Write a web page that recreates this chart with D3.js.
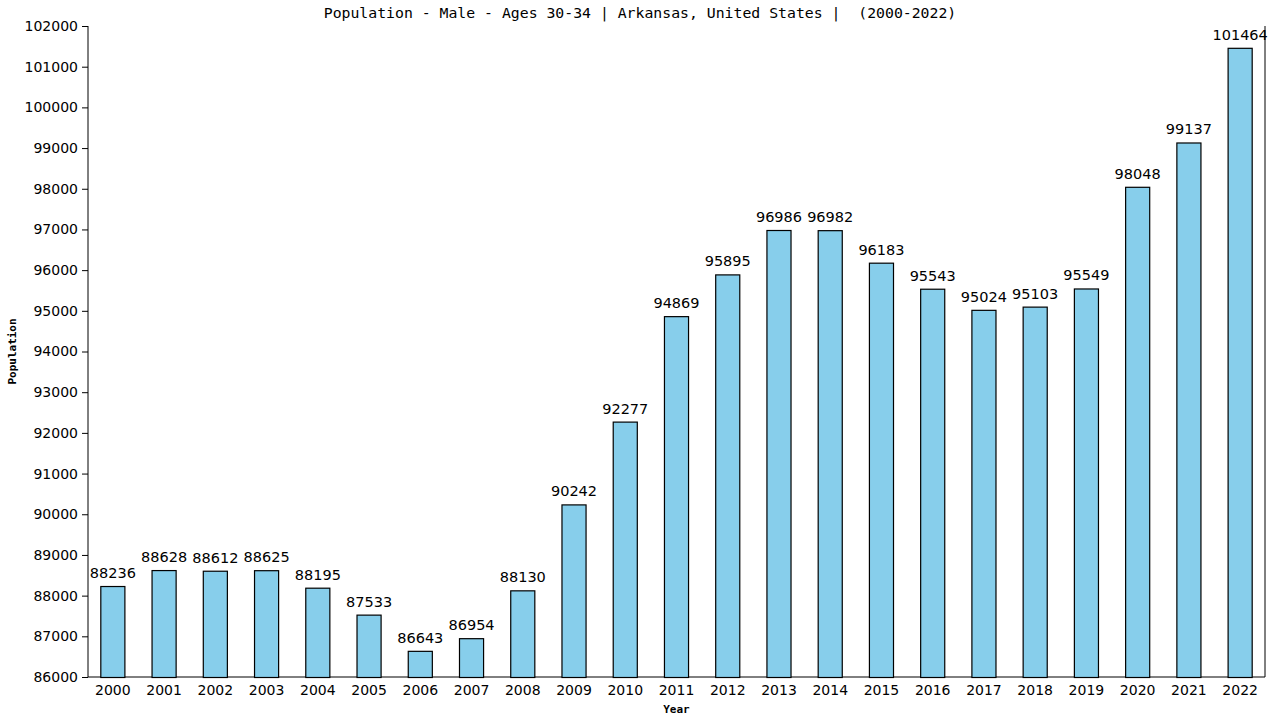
<!DOCTYPE html>
<html lang="en">
  <head>
    <meta charset="UTF-8" />
    <title>Population - Male - Ages 30-34 | Arkansas</title>
    <script src="https://d3js.org/d3.v7.min.js"></script>
    <style>
      body { margin: 0; background: #fff; }
      .tick text { font-family: "DejaVu Sans", sans-serif; font-size: 14px; fill: #000; }
    </style>
  </head>
  <body>
    <div class="chart"></div>
  </body>
  <script>
    var years = ["2000","2001","2002","2003","2004","2005","2006","2007","2008","2009","2010","2011",
                 "2012","2013","2014","2015","2016","2017","2018","2019","2020","2021","2022"];
    var population = [88236, 88628, 88612, 88625, 88195, 87533, 86643, 86954, 88130, 90242, 92277, 94869,
                      95895, 96986, 96982, 96183, 95543, 95024, 95103, 95549, 98048, 99137, 101464];
    var yTicks = [86000, 87000, 88000, 89000, 90000, 91000, 92000, 93000, 94000, 95000,
                  96000, 97000, 98000, 99000, 100000, 101000, 102000];

    var margin = { top: 26, right: 15, bottom: 43, left: 88 };
    var width = 1280 - margin.left - margin.right;
    var height = 720 - margin.top - margin.bottom;

    var svgContainer = d3.select(".chart").append("svg")
      .attr("width", 1280)
      .attr("height", 720);

    var svg = svgContainer.append("g")
      .attr("transform", "translate(" + margin.left + ", " + margin.top + ")");

    var xScale = d3.scaleBand().domain(years).range([0, width]).paddingInner(0.53).paddingOuter(0.25);
    var yScale = d3.scaleLinear().domain([86000, 102000]).range([height, 0]);

    var yAxis = d3.axisLeft(yScale).tickValues(yTicks).tickSize(6).tickPadding(4).tickFormat(d3.format("d"));
    svg.append("g").call(yAxis).call(g => g.select(".domain").attr("d", "M0,0V" + height));

    var xAxis = d3.axisBottom(xScale).tickSize(0).tickPadding(8);
    svg.append("g").attr("transform", `translate(0, ${height})`).call(xAxis)
      .call(g => g.select(".domain").attr("d", "M0,0H" + width));

    // right border line
    svg.append("line")
      .attr("x1", width).attr("x2", width)
      .attr("y1", 0).attr("y2", height)
      .attr("stroke", "#000");

    svg.selectAll(".bar")
      .data(population)
      .enter()
      .append("rect")
      .attr("class", "bar")
      .attr("x", (d, i) => xScale(years[i]))
      .attr("y", d => yScale(d) + 0.5)
      .attr("width", xScale.bandwidth())
      .attr("height", d => height - yScale(d))
      .attr("fill", "#87ceeb")
      .attr("stroke", "#000")
      .attr("stroke-width", 1.2);

    svg.selectAll(".val")
      .data(population)
      .enter()
      .append("text")
      .attr("class", "val")
      .attr("x", (d, i) => xScale(years[i]) + xScale.bandwidth() / 2)
      .attr("y", d => yScale(d) - 8)
      .attr("text-anchor", "middle")
      .style("font-family", "DejaVu Sans, sans-serif")
      .style("font-size", "14.5px")
      .text(d => d);

    svgContainer.append("text")
      .attr("x", 640).attr("y", 18)
      .attr("text-anchor", "middle")
      .style("font-family", "DejaVu Sans Mono, monospace")
      .style("font-size", "14.8px")
      .style("white-space", "pre")
      .text("Population - Male - Ages 30-34 | Arkansas, United States |  (2000-2022)");

    svgContainer.append("text")
      .attr("transform", "translate(16, " + (margin.top + height / 2) + ") rotate(-90)")
      .attr("text-anchor", "middle")
      .style("font-family", "DejaVu Sans Mono, monospace")
      .style("font-size", "11px")
      .style("font-weight", "bold")
      .text("Population");

    svgContainer.append("text")
      .attr("x", margin.left + width / 2).attr("y", 713)
      .attr("text-anchor", "middle")
      .style("font-family", "DejaVu Sans Mono, monospace")
      .style("font-size", "11px")
      .style("font-weight", "bold")
      .text("Year");
  </script>
</html>
